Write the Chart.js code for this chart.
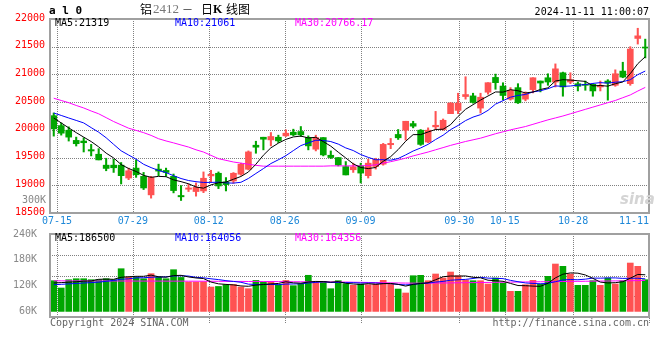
<!DOCTYPE html>
<html>
<head>
<meta charset="utf-8">
<script src="https://cdn.jsdelivr.net/npm/chart.js@4.4.1/dist/chart.umd.min.js"></script>
<style>
  body { margin: 0; background: #fff; }
  #wrap { position: relative; width: 660px; height: 360px; overflow: hidden;
          font-family: "DejaVu Sans Mono", monospace; font-size: 10px; }
  canvas { position: absolute; left: 0; }
  .t { position: absolute; white-space: pre; line-height: 12px; }
  .cjk { font-family: "Noto Sans CJK SC", sans-serif; font-size: 12px; line-height: 14px; }
</style>
</head>
<body>
<div id="wrap">
  <canvas id="kline" width="660" height="229" style="top:0"></canvas>
  <canvas id="vol" width="660" height="105" style="top:223px"></canvas>

  <div class="t" style="left:49px;top:5px;font-size:11px;font-weight:bold">a l 0</div>
  <div class="t cjk" style="left:140px;top:2px">铝</div>
  <div class="t" style="left:153px;top:3px;font-family:'Liberation Serif';font-size:13px;color:#777">2412</div>
  <div class="t" style="left:183px;top:3px;font-family:'DejaVu Sans';font-size:9px">—</div>
  <div class="t cjk" style="left:201px;top:2px">日</div>
  <div class="t" style="left:213px;top:3px;font-family:'Liberation Serif';font-size:12px;font-weight:bold">K</div>
  <div class="t cjk" style="left:226px;top:2px">线图</div>
  <div class="t" style="right:11px;top:6px">2024-11-11 11:00:07</div>

  <div class="t" style="left:55px;top:17px;color:#000">MA5:21319</div>
  <div class="t" style="left:175px;top:17px;color:#00f">MA10:21061</div>
  <div class="t" style="left:295px;top:17px;color:#f0f">MA30:20766.17</div>
  <div class="t" style="right:614px;top:194px;color:#888">300K</div>
  <div class="t" style="left:620px;top:193px;font-family:'DejaVu Sans';font-size:15px;font-weight:bold;font-style:italic;color:#d4d4d4">sina</div>

  <div class="t" style="left:55px;top:232px;color:#000">MA5:186500</div>
  <div class="t" style="left:175px;top:232px;color:#00f">MA10:164056</div>
  <div class="t" style="left:295px;top:232px;color:#f0f">MA30:164356</div>

  <div class="t" style="left:50px;top:317px;color:#666">Copyright 2024 SINA.COM</div>
  <div class="t" style="right:11px;top:317px;color:#666">http://finance.sina.com.cn</div>
</div>

<script>
const dates = [
  "07-12", "07-15", "07-16", "07-17", "07-18", "07-19", "07-22", "07-23", "07-24", "07-25", "07-26", "07-29", "07-30", "07-31",
  "08-01", "08-02", "08-05", "08-06", "08-07", "08-08", "08-09", "08-12", "08-13", "08-14", "08-15", "08-16",
  "08-19", "08-20", "08-21", "08-22", "08-23", "08-26", "08-27", "08-28", "08-29", "08-30",
  "09-02", "09-03", "09-04", "09-05", "09-06", "09-09", "09-10", "09-11", "09-12", "09-13",
  "09-18", "09-19", "09-20", "09-23", "09-24", "09-25", "09-26", "09-27", "09-30",
  "10-08", "10-09", "10-10", "10-11", "10-14", "10-15", "10-16", "10-17", "10-18",
  "10-21", "10-22", "10-23", "10-24", "10-25", "10-28", "10-29", "10-30", "10-31",
  "11-01", "11-04", "11-05", "11-06", "11-07", "11-08", "11-11",
];
const tickDates = ["07-15", "07-29", "08-12", "08-26", "09-09", "09-30", "10-15", "10-28", "11-11"];

const openP = [
  20256, 20077, 19994, 19810, 19798, 19643, 19560, 19363, 19363, 19363,
  19131, 19310, 19161, 18827, 19292, 19268, 19161, 18816, 18929, 18887,
  18898, 19169, 19217, 19060, 19078, 19199, 19289, 19723, 19867, 19819,
  19867, 19892, 19958, 19970, 19861, 19651, 19861, 19542, 19500, 19337,
  19280, 19351, 19173, 19339, 19381, 19732, 19917, 19994, 20113, 19994,
  19780, 20054, 20006, 20292, 20351, 20601, 20613, 20393, 20679, 20946,
  20790, 20554, 20762, 20554, 20726, 20881, 20940, 20863, 21030, 20863,
  20833, 20822, 20821, 20774, 20881, 20804, 21060, 20833, 21649, 21482,
];
const closeP = [
  20018, 19940, 19869, 19750, 19768, 19619, 19458, 19304, 19316, 19173,
  19262, 19190, 18952, 19143, 19256, 19232, 18905, 18792, 18952, 18964,
  19127, 19199, 18988, 19012, 19217, 19380, 19602, 19687, 19831, 19880,
  19801, 19940, 19910, 19910, 19711, 19861, 19548, 19500, 19367, 19187,
  19333, 19220, 19399, 19470, 19738, 19756, 19857, 20155, 20066, 19738,
  19994, 20083, 20173, 20482, 20482, 20637, 20494, 20589, 20851, 20851,
  20620, 20714, 20488, 20655, 20940, 20845, 20863, 21101, 20774, 20905,
  20786, 20804, 20702, 20804, 20845, 21012, 20952, 21458, 21696, 21476,
];
const highP = [
  20304, 20125, 20054, 19869, 19857, 19738, 19661, 19488, 19470, 19411,
  19310, 19458, 19232, 19161, 19381, 19310, 19203, 18994, 19024, 19042,
  19241, 19271, 19241, 19139, 19229, 19398, 19620, 19795, 19867, 19952,
  19904, 20000, 20012, 20060, 19892, 19904, 19861, 19620, 19500, 19428,
  19399, 19399, 19470, 19488, 19756, 19845, 20006, 20155, 20155, 20006,
  20036, 20333, 20196, 20494, 20661, 20958, 20661, 20661, 20851, 21006,
  20850, 20762, 20833, 20685, 20940, 20881, 21012, 21190, 21042, 21030,
  20863, 20881, 20833, 20881, 20905, 21083, 21220, 21500, 21833, 21637,
];
const lowP = [
  19887, 19905, 19798, 19708, 19601, 19530, 19458, 19262, 19232, 19024,
  19101, 19143, 18923, 18768, 19173, 19161, 18863, 18726, 18887, 18804,
  18867, 19060, 18940, 18898, 19036, 19181, 19277, 19578, 19639, 19711,
  19771, 19880, 19892, 19880, 19639, 19620, 19530, 19482, 19349, 19187,
  19232, 19042, 19131, 19292, 19363, 19661, 19827, 19816, 20036, 19720,
  19768, 20006, 19994, 20292, 20292, 20554, 20482, 20304, 20643, 20732,
  20540, 20536, 20476, 20524, 20667, 20685, 20804, 20774, 20607, 20833,
  20702, 20714, 20607, 20702, 20536, 20786, 20940, 20804, 21548, 21298,
];

const ma5 = [
  20214, 20125, 20036, 19950, 19869, 19789, 19693, 19580, 19493, 19374,
  19303, 19249, 19179, 19144, 19161, 19155, 19098, 19066, 19027, 18969,
  18948, 19007, 19046, 19058, 19109, 19159, 19240, 19380, 19543, 19676,
  19760, 19828, 19872, 19888, 19854, 19866, 19788, 19706, 19597, 19493,
  19387, 19321, 19301, 19322, 19432, 19517, 19644, 19795, 19914, 19914,
  19962, 20007, 20011, 20094, 20243, 20371, 20454, 20537, 20611, 20684,
  20681, 20725, 20705, 20666, 20683, 20728, 20758, 20881, 20905, 20898,
  20886, 20874, 20794, 20800, 20788, 20833, 20863, 21014, 21193, 21319,
];
const ma10 = [
  20304, 20260, 20214, 20170, 20125, 20040, 19958, 19857, 19738, 19622,
  19546, 19471, 19379, 19319, 19267, 19229, 19173, 19122, 19086, 19065,
  19051, 19052, 19056, 19043, 19039, 19054, 19123, 19213, 19301, 19392,
  19460, 19534, 19626, 19716, 19765, 19813, 19808, 19789, 19743, 19674,
  19627, 19555, 19504, 19460, 19462, 19452, 19483, 19548, 19618, 19673,
  19739, 19826, 19903, 20004, 20079, 20167, 20230, 20274, 20352, 20464,
  20526, 20589, 20621, 20638, 20684, 20705, 20742, 20793, 20785, 20791,
  20807, 20816, 20838, 20852, 20843, 20860, 20869, 20904, 20996, 21061,
];
const ma30 = [
  20571, 20530, 20490, 20440, 20395, 20340, 20290, 20220, 20150, 20090,
  20030, 19990, 19950, 19900, 19840, 19800, 19765, 19727, 19690, 19640,
  19600, 19540, 19480, 19450, 19420, 19400, 19380, 19360, 19345, 19345,
  19345, 19345, 19345, 19345, 19345, 19345, 19345, 19350, 19350, 19350,
  19350, 19350, 19355, 19370, 19400, 19426, 19456, 19490, 19530, 19565,
  19600, 19640, 19680, 19720, 19755, 19790, 19820, 19850, 19890, 19930,
  19965, 20000, 20030, 20060, 20100, 20140, 20180, 20215, 20250, 20290,
  20330, 20370, 20410, 20450, 20490, 20530, 20580, 20630, 20700, 20766,
];

const volume = [
  131400, 114400, 133700, 136000, 136000, 133700, 133700, 136000, 133700, 159300,
  140000, 139000, 136000, 147700, 140000, 136000, 157000, 139000, 128400, 128400,
  129000, 116700, 118000, 122000, 122600, 116700, 112800, 132000, 128400, 129900,
  122000, 132000, 119800, 124400, 144000, 128400, 129900, 112800, 131400, 124400,
  120700, 123700, 122100, 123700, 132300, 123700, 112000, 102800, 143000, 143900,
  131400, 147000, 137700, 151600, 143000, 133000, 131400, 131400, 123700, 137700,
  126000, 106700, 106700, 122100, 132300, 123700, 141600, 170200, 164800, 147000,
  120700, 120700, 131400, 120700, 137700, 123700, 131400, 172500, 164800, 133700,
];
const volMa5 = [
  126000, 127000, 128000, 129000, 130300, 130800, 134600, 135100, 134600, 139300,
  140500, 141600, 141600, 144400, 140500, 139700, 143300, 143900, 140100, 137800,
  136400, 128300, 124100, 122800, 121700, 119200, 118400, 121200, 122500, 124000,
  125000, 128900, 126400, 125600, 128400, 129700, 129300, 127900, 129300, 125400,
  123800, 122600, 124500, 122900, 124500, 125100, 122800, 118900, 122800, 125100,
  126600, 133600, 140600, 142300, 142100, 142500, 139300, 138100, 132500, 131400,
  130000, 125100, 120200, 119800, 118800, 118300, 125300, 138000, 146500, 149500,
  148900, 144700, 136900, 128100, 126200, 126800, 129000, 137200, 146000, 145200,
];
const volMa10 = [
  122000, 123000, 124000, 125000, 126000, 127000, 128000, 130000, 132000, 134800,
  135700, 138100, 138300, 139500, 139900, 140100, 142500, 142800, 142200, 139200,
  138100, 135800, 134000, 131500, 129700, 127800, 123400, 122700, 122700, 122800,
  122100, 123600, 123800, 124100, 126200, 127400, 129100, 127200, 127500, 126900,
  126800, 126000, 126200, 126100, 124900, 124500, 122700, 121700, 122800, 124800,
  125900, 128200, 129800, 132500, 133600, 134500, 136500, 139300, 137400, 136800,
  136300, 132200, 129100, 126200, 125100, 124200, 125200, 129100, 133200, 134100,
  133600, 135000, 137500, 137300, 137900, 137900, 136800, 137100, 137100, 135700,
];
const volMa30 = [
  131200, 131100, 131000, 131000, 130900, 130900, 130800, 130800, 130700, 130700,
  130600, 130600, 130500, 130500, 130500, 130400, 130400, 130400, 130300, 130300,
  130200, 130100, 130000, 129900, 129800, 129700, 129600, 129600, 129500, 129500,
  129300, 129200, 129000, 128900, 128800, 128700, 128600, 128500, 128400, 128300,
  127900, 127600, 127300, 127000, 126700, 126400, 126100, 125900, 125700, 125500,
  125700, 125900, 126100, 126300, 126600, 126800, 127000, 127200, 127400, 127600,
  127900, 128100, 128300, 128500, 128700, 128900, 129100, 129300, 129500, 129700,
  129900, 130100, 130300, 130500, 130700, 130900, 131100, 131300, 131600, 132000,
];
const volTicks = [60000, 120000, 180000, 240000];

const RED = "#ff5252";
const GREEN = "#00a600";
const GRID = "#808080";

Chart.defaults.font.family = "DejaVu Sans Mono";
Chart.defaults.font.size = 10;
Chart.defaults.animation = false;

const candleColor = openP.map((o, i) => (closeP[i] >= o ? RED : GREEN));
const tickIdx = tickDates.map((d) => dates.indexOf(d));

// gray frame around each pane
const framePlugin = {
  id: "frame",
  afterDraw(chart) {
    const { ctx, chartArea: a } = chart;
    ctx.save();
    ctx.strokeStyle = "#a0a0a0";
    ctx.lineWidth = 2;
    ctx.strokeRect(a.left, a.top, a.right - a.left, a.bottom - a.top);
    ctx.restore();
  },
};

// dotted grid (pixel dots) at the ticks of the given scales
function makeDotGrid(vertical, horizontal, tail) {
  return {
    id: "dotGrid",
    beforeDatasetsDraw(chart) {
      const { ctx, chartArea: a, scales } = chart;
      const top = Math.round(a.top), bottom = Math.round(a.bottom);
      const left = Math.round(a.left), right = Math.round(a.right);
      ctx.save();
      ctx.fillStyle = GRID;
      vertical.forEach((id) => {
        scales[id].ticks.forEach((t) => {
          const x = Math.round(scales[id].getPixelForValue(t.value));
          for (let y = top; y <= bottom + tail; y += 2) ctx.fillRect(x, y, 1, 1);
        });
      });
      horizontal.forEach((id) => {
        scales[id].ticks.forEach((t) => {
          const y = Math.round(scales[id].getPixelForValue(t.value));
          for (let x = left; x <= right; x += 2) ctx.fillRect(x, y, 1, 1);
        });
      });
      ctx.restore();
    },
  };
}

const maLine = (data, color) => ({
  type: "line",
  data,
  borderColor: color,
  borderWidth: 1,
  pointRadius: 0,
  tension: 0,
  xAxisID: "x",
  yAxisID: "y",
  order: 0,
});

const plugins = { legend: { display: false }, tooltip: { enabled: false } };

// date axis shared by both panes (linear, so the grid keeps Sina's own spacing)
const dateAxis = (showLabels) => ({
  axis: "x",
  type: "linear",
  position: "bottom",
  min: 0.08,
  max: 79,
  offset: false,
  afterBuildTicks: (ax) => {
    const vals = showLabels ? [ax.min, ...tickIdx] : tickIdx;
    ax.ticks = vals.map((v) => ({ value: v }));
  },
  ticks: showLabels
    ? {
        align: "inner",
        padding: 2,
        color: "#1e88d8",
        autoSkip: false,
        maxRotation: 0,
        callback: (v) => {
          const k = tickIdx.indexOf(v);
          return k < 0 ? "" : tickDates[k];
        },
      }
    : { display: false },
  grid: { display: false, drawTicks: false },
  border: { display: false },
});

new Chart(document.getElementById("kline"), {
  type: "bar",
  data: {
    labels: dates,
    datasets: [
      maLine(ma5, "#000"),
      maLine(ma10, "#00f"),
      maLine(ma30, "#f0f"),
      {
        data: openP.map((o, i) => [o, closeP[i]]),
        backgroundColor: candleColor,
        barThickness: 6,
        minBarLength: 1,
        grouped: false,
        xAxisID: "x",
        yAxisID: "y",
        order: 1,
      },
      {
        data: lowP.map((l, i) => [l, highP[i]]),
        backgroundColor: candleColor,
        barThickness: 1.4,
        grouped: false,
        xAxisID: "x",
        yAxisID: "y",
        order: 2,
      },
    ],
  },
  options: {
    responsive: false,
    layout: { padding: { top: 19, right: 11, left: 0, bottom: 0 } },
    plugins,
    scales: {
      x: { type: "category", offset: true, display: false },
      xg: dateAxis(true),
      y: {
        position: "left",
        min: 18500,
        max: 22000,
        ticks: { stepSize: 500, color: "#f00", padding: 5, labelOffset: -1, callback: (v) => String(v) },
        grid: { display: false, drawTicks: false },
        border: { display: false },
        afterFit: (ax) => { ax.width = 50; },
      },
    },
  },
  plugins: [makeDotGrid(["xg"], ["y"], 0), framePlugin],
});

new Chart(document.getElementById("vol"), {
  type: "bar",
  data: {
    labels: dates,
    datasets: [
      maLine(volMa5, "#000"),
      maLine(volMa10, "#00f"),
      maLine(volMa30, "#f0f"),
      {
        data: volume,
        base: 60000,
        backgroundColor: candleColor,
        barThickness: 6,
        xAxisID: "x",
        yAxisID: "y",
        order: 1,
      },
    ],
  },
  options: {
    responsive: false,
    layout: { padding: { top: 11, right: 11, left: 0, bottom: 0 } },
    plugins,
    scales: {
      x: { type: "category", offset: true, display: false },
      xg: dateAxis(false),
      y: {
        position: "left",
        min: 47000,
        max: 240000,
        afterBuildTicks: (ax) => {
          ax.ticks = volTicks.map((v) => ({ value: v }));
        },
        ticks: { color: "#888", padding: 5, callback: (v) => v / 1000 + "K" },
        grid: { display: false },
        border: { display: false },
        afterFit: (ax) => { ax.width = 50; },
      },
      yg: {
        axis: "y",
        position: "left",
        min: 0,
        max: 4,
        ticks: { display: false, stepSize: 1 },
        grid: { display: false, drawTicks: false },
        border: { display: false },
        afterFit: (ax) => { ax.width = 0; },
      },
    },
  },
  plugins: [makeDotGrid(["xg"], ["yg"], 6), framePlugin],
});
</script>
</body>
</html>
